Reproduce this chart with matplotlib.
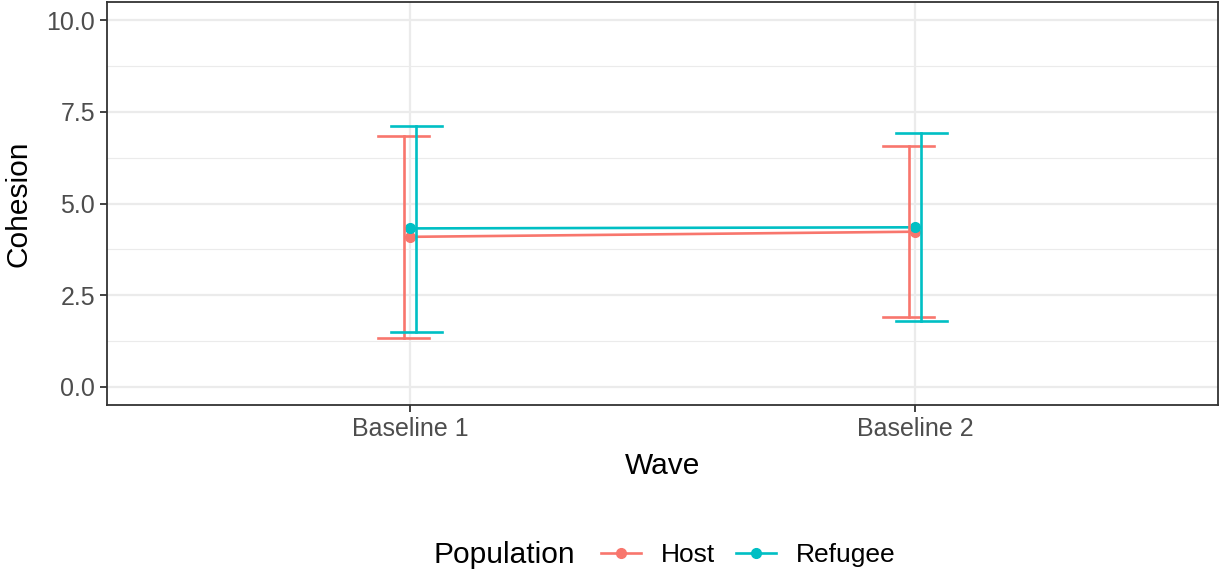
import matplotlib
matplotlib.use("Agg")
import matplotlib.pyplot as plt
from matplotlib.lines import Line2D
import numpy as np

plt.rcParams["font.family"] = ["Liberation Sans", "DejaVu Sans"]

waves = ["Baseline 1", "Baseline 2"]
groups = ["Host", "Refugee"]
colors = {"Host": "#F8766D", "Refugee": "#00BFC4"}
means = {"Host": [4.09, 4.23], "Refugee": [4.32, 4.35]}
lower = {"Host": [1.34, 1.91], "Refugee": [1.50, 1.78]}
upper = {"Host": [6.84, 6.57], "Refugee": [7.11, 6.93]}
dodge = {"Host": -0.0128, "Refugee": 0.0128}

fig = plt.figure(figsize=(12.2, 5.73), dpi=100)
ax = fig.add_axes([107 / 1220, 1 - 405 / 573, (1218 - 107) / 1220, (405 - 2) / 573])

x = np.arange(1, len(waves) + 1)

# grid
for v in [1.25, 3.75, 6.25, 8.75]:
    ax.axhline(v, color="#EBEBEB", lw=0.8, zorder=0)
for v in [0, 2.5, 5, 7.5, 10]:
    ax.axhline(v, color="#EBEBEB", lw=1.6, zorder=0)
for xv in x:
    ax.axvline(xv, color="#EBEBEB", lw=1.6, zorder=0)

for g in groups:
    c = colors[g]
    ax.plot(x, means[g], color=c, lw=1.9, zorder=2)
    ax.plot(x, means[g], "o", color=c, ms=7, zorder=3)

cap = 0.05
for g in groups:
    c = colors[g]
    xs = x + dodge[g]
    for xi, lo, hi in zip(xs, lower[g], upper[g]):
        ax.plot([xi, xi], [lo, hi], color=c, lw=1.9, zorder=4)
        ax.plot([xi - cap, xi + cap], [lo, lo], color=c, lw=1.9, zorder=4)
        ax.plot([xi - cap, xi + cap], [hi, hi], color=c, lw=1.9, zorder=4)

ax.set_xlim(0.4, 2.6)
ax.set_ylim(-0.5, 10.5)
ax.set_xticks(x)
ax.set_xticklabels(waves)
ax.set_yticks([0, 2.5, 5, 7.5, 10])
ax.set_yticklabels(["0.0", "2.5", "5.0", "7.5", "10.0"])
ax.tick_params(colors="#333333", labelcolor="#4D4D4D", labelsize=18, length=5, width=1.3)
for s in ax.spines.values():
    s.set_color("#333333")
    s.set_linewidth(1.3)

ax.set_xlabel("Wave", fontsize=21.5, labelpad=8)
ax.set_ylabel("Cohesion", fontsize=21.5, labelpad=10)

fig.text(433 / 1220, 1 - 555 / 573, "Population", fontsize=21.5, va="center", ha="left")
handles = [Line2D([], [], color=colors[g], lw=1.9, marker="o", ms=7) for g in groups]
fig.legend(handles, groups, loc="center left", bbox_to_anchor=(601 / 1220, 1 - 555 / 573),
           ncol=2, frameon=False, fontsize=19, handlelength=1.5, handletextpad=0.76,
           columnspacing=0.8, borderaxespad=0, borderpad=0)

fig.savefig("out.png", dpi=100)
